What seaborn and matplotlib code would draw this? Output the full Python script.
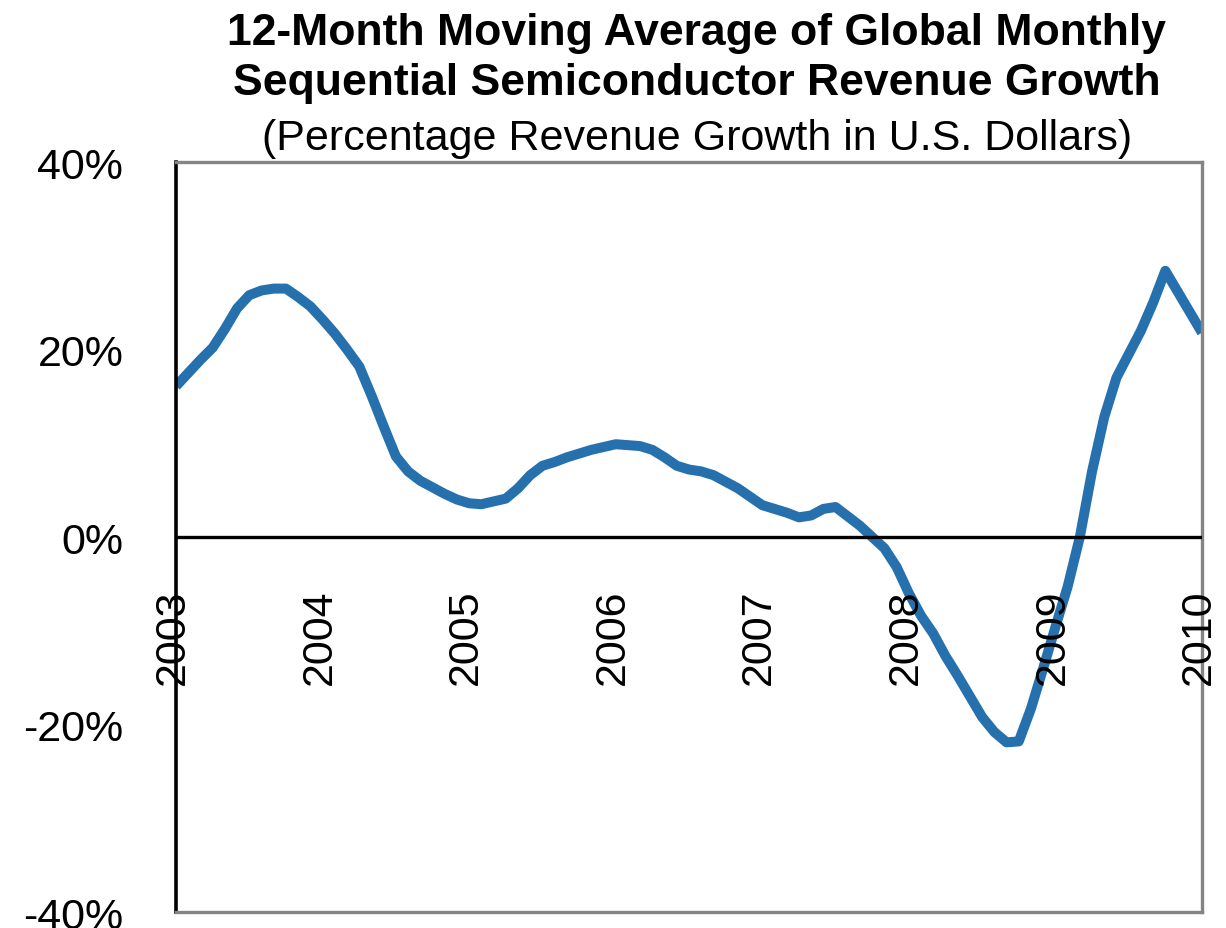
import numpy as np
import pandas as pd
import seaborn as sns
import matplotlib.pyplot as plt

# monthly values, Jan 2003 .. Jan 2010 (percent)
growth = [16.1, 17.5, 18.9, 20.2, 22.2, 24.4, 25.8, 26.3, 26.5, 26.5, 25.6, 24.6,
          23.2, 21.7, 20.0, 18.2, 15.1, 11.8, 8.6, 7.0, 6.0, 5.3, 4.6, 4.0,
          3.6, 3.5, 3.8, 4.1, 5.2, 6.6, 7.6, 8.0, 8.5, 8.9, 9.3, 9.6,
          9.9, 9.8, 9.7, 9.3, 8.5, 7.6, 7.2, 7.0, 6.6, 5.9, 5.2, 4.3,
          3.4, 3.0, 2.6, 2.1, 2.3, 3.0, 3.2, 2.2, 1.2, 0.0, -1.2, -3.2,
          -6.0, -8.4, -10.3, -12.7, -14.8, -17.0, -19.2, -20.8, -21.9, -21.8, -18.3, -14.0,
          -9.6, -5.3, 0.0, 7.0, 12.8, 17.0, 19.5, 22.0, 25.0, 28.4, 26.2, 24.0,
          21.8]
years = list(range(2003, 2011))
y_ticks = [-40, -20, 0, 20, 40]

df = pd.DataFrame({'t': 2003 + np.arange(len(growth)) / 12.0, 'value': growth})

sns.set_theme(style='white')
plt.rcParams['font.family'] = ['Liberation Sans', 'DejaVu Sans']
plt.rcParams['text.color'] = 'black'
plt.rcParams['ytick.color'] = 'black'
plt.rcParams['xtick.color'] = 'black'

fig = plt.figure(figsize=(12.26, 9.29), dpi=100)
ax = fig.add_axes([0.1436, 0.0172, 0.8368, 0.8073])

sns.lineplot(data=df, x='t', y='value', ax=ax, color='#2670ad', linewidth=7.2,
             solid_joinstyle='round', solid_capstyle='butt')

ax.axhline(0, color='black', linewidth=2.4, zorder=3)

ax.set_xlim(years[0], years[-1])
ax.set_ylim(-40, 40)
ax.set_yticks(y_ticks)
ax.set_yticklabels([f'{v}%' for v in y_ticks], fontsize=31)
ax.set_xticks([])
ax.tick_params(axis='y', length=0, pad=38)
ax.set_xlabel('')
ax.set_ylabel('')

# year labels sit inside the plot, just under the zero line
for yr in years:
    ax.text(yr - 0.02, -5.5, str(yr), rotation=90, ha='center', va='top', fontsize=31)

for side in ['top', 'right', 'bottom']:
    ax.spines[side].set_color('#858585')
    ax.spines[side].set_linewidth(2.4)
ax.spines['left'].set_color('black')
ax.spines['left'].set_linewidth(2.6)

fig.text(0.5685, 1 - 45 / 929, '12-Month Moving Average of Global Monthly', ha='center',
         va='baseline', fontsize=32, fontweight='bold')
fig.text(0.5685, 1 - 95 / 929, 'Sequential Semiconductor Revenue Growth', ha='center',
         va='baseline', fontsize=32, fontweight='bold')
fig.text(0.5685, 1 - 150 / 929, '(Percentage Revenue Growth in U.S. Dollars)', ha='center',
         va='baseline', fontsize=31)

fig.savefig('out.png', dpi=100)
